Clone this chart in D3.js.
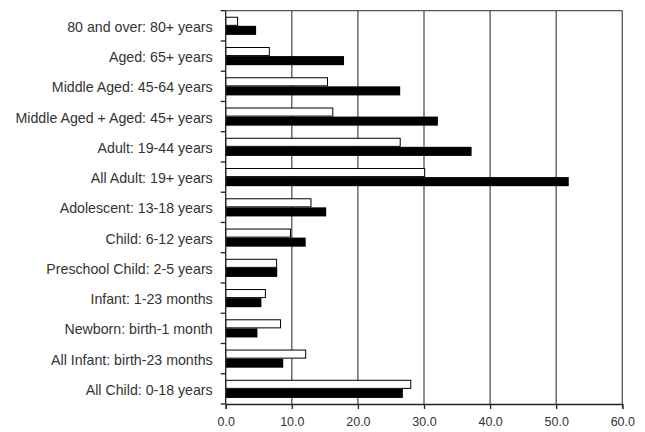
<!DOCTYPE html>
<html><head><meta charset="utf-8">
<script src="https://cdn.jsdelivr.net/npm/d3@7"></script>
<style>body{margin:0;background:#fff}svg{display:block}</style>
</head><body>
<svg id="c" width="645" height="432"></svg>
<script>
const categories = ["80 and over: 80+ years","Aged: 65+ years","Middle Aged: 45-64 years","Middle Aged + Aged: 45+ years","Adult: 19-44 years","All Adult: 19+ years","Adolescent: 13-18 years","Child: 6-12 years","Preschool Child: 2-5 years","Infant: 1-23 months","Newborn: birth-1 month","All Infant: birth-23 months","All Child: 0-18 years"];
const seriesWhite = [1.8,6.6,15.4,16.2,26.4,30.1,12.9,9.8,7.7,6.0,8.3,12.1,28.0];
const seriesBlack = [4.6,17.9,26.4,32.1,37.2,51.9,15.2,12.1,7.8,5.4,4.8,8.7,26.8];
const xTicks = [0,10,20,30,40,50,60];

const svg = d3.select("#c");
const L = 225.7, R = 622.3, T = 10.7, B = 404;
const x = d3.scaleLinear().domain([0,60]).range([L,R]);
const y = d3.scaleBand().domain(categories).range([T,B]).paddingInner(0.4).paddingOuter(0.2);
const sub = d3.scaleBand().domain(["w","b"]).range([0,y.bandwidth()]);
const grid = "#555";

svg.append("g").selectAll("line").data(xTicks.filter(d=>d>0)).join("line")
  .attr("x1",d=>x(d)).attr("x2",d=>x(d)).attr("y1",T).attr("y2",B)
  .attr("stroke",grid).attr("stroke-width",1.3);
svg.append("line").attr("x1",L).attr("x2",R).attr("y1",T).attr("y2",T).attr("stroke",grid).attr("stroke-width",1.3);

const g = svg.append("g");
g.selectAll("rect.w").data(categories).join("rect").attr("class","w")
  .attr("x",x(0)).attr("y",(d,i)=>y(d)+sub("w")+0.5)
  .attr("width",(d,i)=>x(seriesWhite[i])-x(0)).attr("height",sub.bandwidth()-1)
  .attr("fill","#fff").attr("stroke","#000").attr("stroke-width",1);
g.selectAll("rect.b").data(categories).join("rect").attr("class","b")
  .attr("x",x(0)).attr("y",(d,i)=>y(d)+sub("b"))
  .attr("width",(d,i)=>x(seriesBlack[i])-x(0)).attr("height",sub.bandwidth())
  .attr("fill","#000");

const xa = svg.append("g").attr("transform",`translate(0,${B})`)
  .call(d3.axisBottom(x).tickValues(xTicks).tickFormat(d3.format(".1f")).tickSizeOuter(0).tickSize(5).tickPadding(8));
xa.select(".domain").attr("stroke","#222").attr("stroke-width",1.3);
xa.selectAll(".tick line").attr("stroke","#222").attr("stroke-width",1.3);
xa.selectAll("text").attr("font-family","Liberation Sans, Arial, sans-serif").attr("font-size",12.5).attr("fill","#333");

const ya = svg.append("g").attr("transform",`translate(${L},0)`);
ya.append("line").attr("x1",0).attr("x2",0).attr("y1",T).attr("y2",B).attr("stroke","#222").attr("stroke-width",1.3);
const bounds = d3.range(categories.length+1).map(i=>T+(B-T)*i/categories.length);
ya.selectAll("line.t").data(bounds).join("line").attr("class","t")
  .attr("x1",-5).attr("x2",0).attr("y1",d=>d).attr("y2",d=>d).attr("stroke","#222").attr("stroke-width",1.3);
ya.selectAll("text").data(categories).join("text")
  .attr("x",-13).attr("y",d=>y(d)+y.bandwidth()/2+1).attr("dy","0.35em")
  .attr("text-anchor","end").attr("font-family","Liberation Sans, Arial, sans-serif")
  .attr("font-size",14.2).attr("fill","#333").text(d=>d);
</script>
</body></html>
